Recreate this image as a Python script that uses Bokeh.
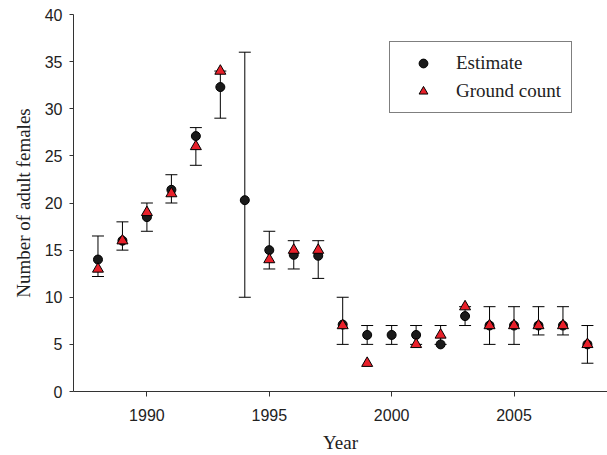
from bokeh.plotting import figure
from bokeh.models import (ColumnDataSource, Whisker, TeeHead, Legend, LegendItem,
                          Range1d, FixedTicker)
from bokeh.embed import file_html
from bokeh.resources import INLINE

years = list(range(1988, 2009))
estimate = [14, 16, 18.5, 21.4, 27.1, 32.3, 20.3, 15, 14.5, 14.4, 7.1, 6, 6, 6, 5, 8, 7, 7, 7, 7, 5]
lower = [12.2, 15, 17, 20, 24, 29, 10, 13, 13, 12, 5, 5, 5, 5, 5, 7, 5, 5, 6, 6, 3]
upper = [16.5, 18, 20, 23, 28, 34, 36, 17, 16, 16, 10, 7, 7, 7, 7, 9, 9, 9, 9, 9, 7]

count_years = [1988, 1989, 1990, 1991, 1992, 1993, 1995, 1996, 1997, 1998, 1999,
               2001, 2002, 2003, 2004, 2005, 2006, 2007, 2008]
ground_count = [13, 16, 19, 21, 26, 34, 14, 15, 15, 7, 3, 5, 6, 9, 7, 7, 7, 7, 5]

x_ticks = [1990, 1995, 2000, 2005]
y_ticks = [0, 5, 10, 15, 20, 25, 30, 35, 40]

est_src = ColumnDataSource(dict(x=years, y=estimate, lower=lower, upper=upper))
cnt_src = ColumnDataSource(dict(x=count_years, y=ground_count))

p = figure(width=607, height=455, output_backend="svg", toolbar_location=None,
           x_range=Range1d(1987, 2008.82), y_range=Range1d(0, 40),
           min_border_left=73, min_border_right=0, min_border_top=14, min_border_bottom=64)
p.outline_line_color = None
p.xgrid.visible = False
p.ygrid.visible = False
p.background_fill_color = "white"

for ax in (p.xaxis[0], p.yaxis[0]):
    ax.axis_line_color = "#333333"
    ax.major_tick_line_color = "#333333"
    ax.major_tick_in = 0
    ax.major_tick_out = 5
    ax.minor_tick_line_color = None
    ax.major_label_text_font = "Liberation Sans"
    ax.major_label_text_font_size = "16px"
    ax.major_label_text_color = "#222222"
    ax.axis_label_text_font = "Liberation Serif"
    ax.axis_label_text_font_size = "19px"
    ax.axis_label_text_font_style = "normal"
    ax.axis_label_text_color = "#222222"

p.xaxis.ticker = FixedTicker(ticks=x_ticks)
p.yaxis.ticker = FixedTicker(ticks=y_ticks)
p.yaxis.major_tick_out = 4
p.xaxis.axis_label = "Year"
p.yaxis.axis_label = "Number of adult females"
p.xaxis.major_label_standoff = 12
p.yaxis.major_label_standoff = 7
p.xaxis.axis_label_standoff = 8
p.yaxis.axis_label_standoff = 8

whisk = Whisker(base="x", upper="upper", lower="lower", source=est_src,
                line_color="black", line_width=1,
                upper_head=TeeHead(size=12, line_color="black", line_width=1),
                lower_head=TeeHead(size=12, line_color="black", line_width=1))
p.add_layout(whisk)

r_est = p.scatter("x", "y", source=est_src, marker="circle", size=9,
                  fill_color="#1a1a1a", line_color="black", line_width=1)
r_cnt = p.scatter("x", "y", source=cnt_src, marker="triangle", size=11,
                  fill_color="#e8202a", line_color="black", line_width=1)

legend = Legend(items=[LegendItem(label="Estimate", renderers=[r_est]),
                       LegendItem(label="Ground count", renderers=[r_cnt])],
                location=(316, 278), orientation="vertical",
                border_line_color="black", border_line_width=1,
                background_fill_color="white", background_fill_alpha=1,
                padding=10, spacing=6, margin=0,
                glyph_width=46, glyph_height=22, label_height=22,
                label_standoff=10,
                label_text_font="Liberation Serif", label_text_font_size="19px",
                label_text_color="#222222")
p.add_layout(legend, "center")

open("out.html", "w").write(file_html(p, INLINE))
